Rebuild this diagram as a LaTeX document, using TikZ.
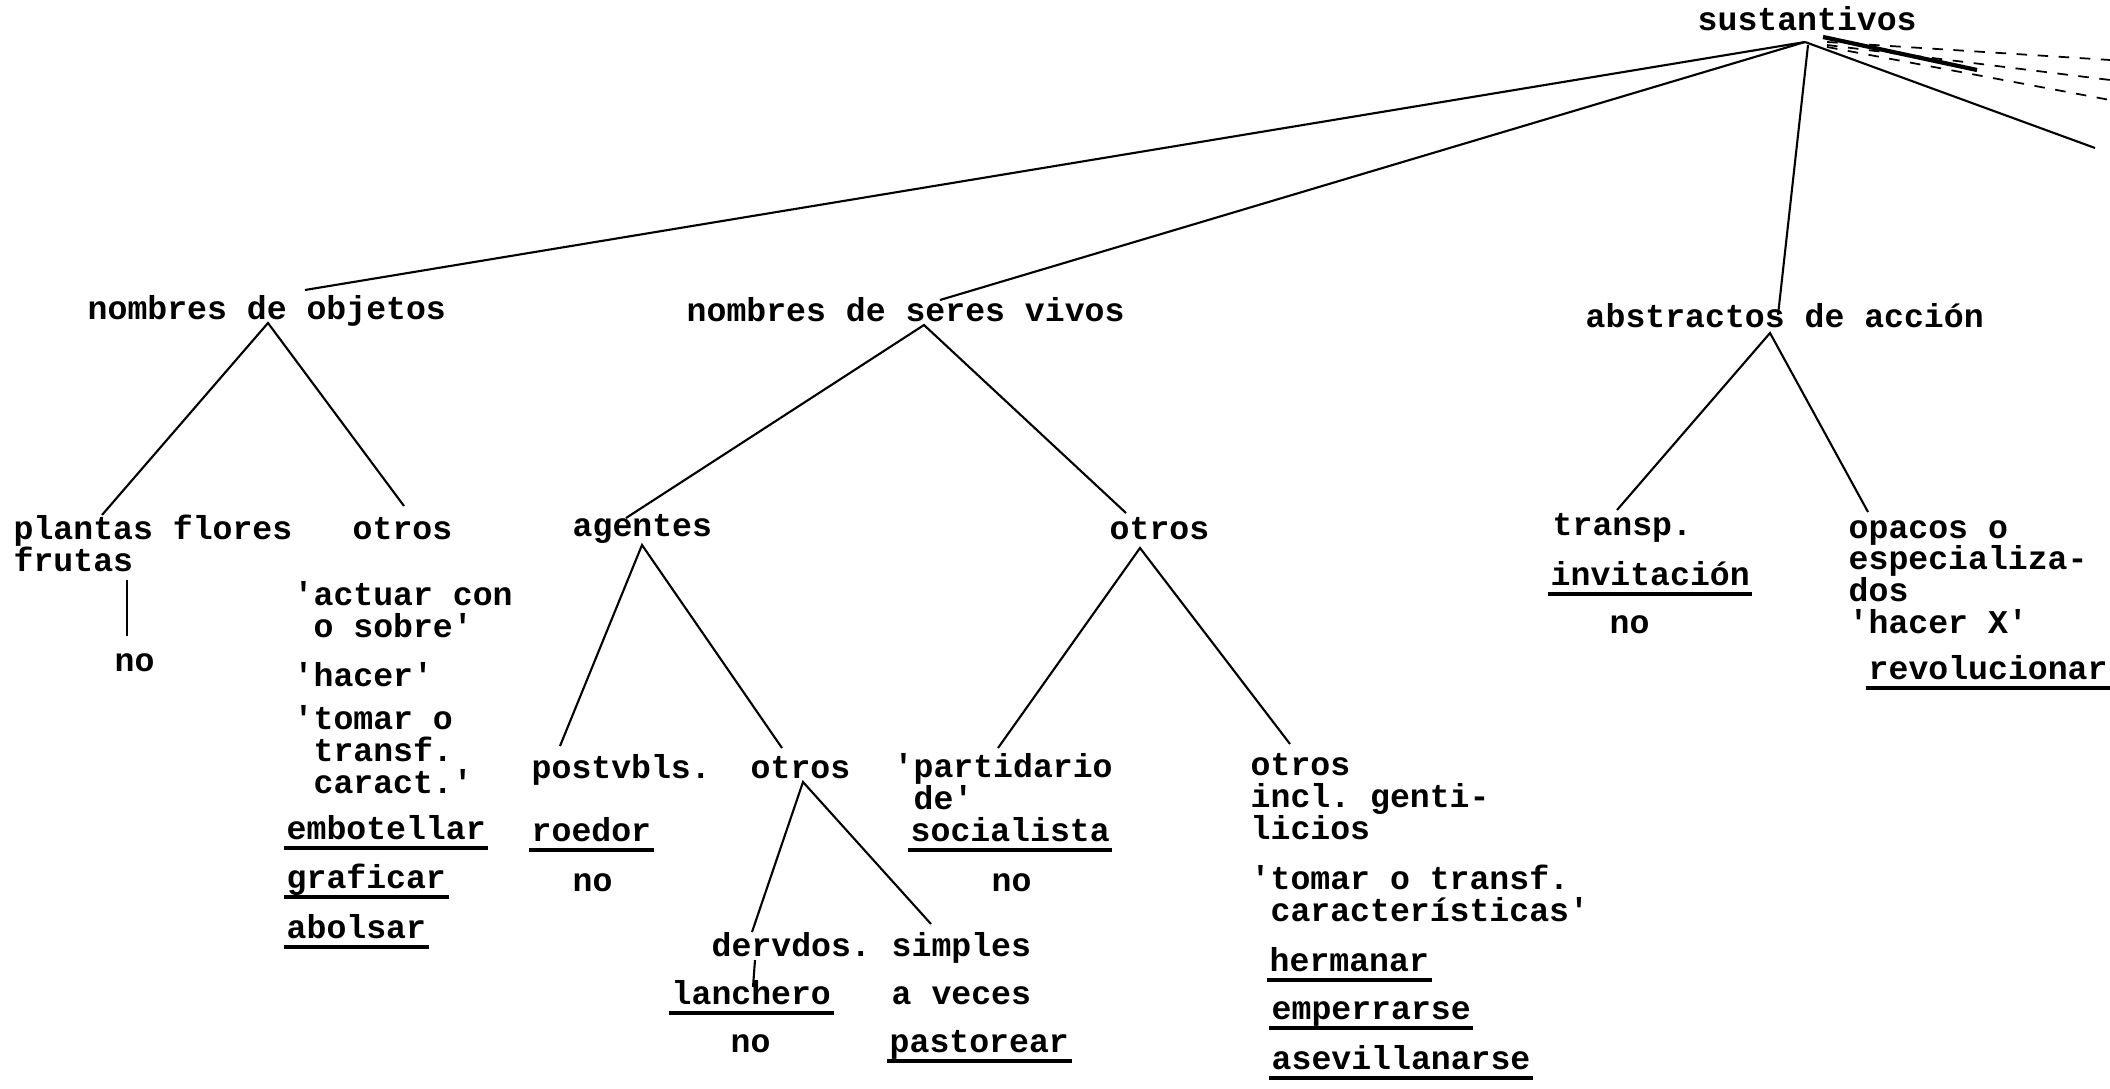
\documentclass[tikz,border=0pt]{standalone}
\usepackage{fontspec}
\setmonofont{Liberation Mono}
\usetikzlibrary{calc}
\tikzset{
    txt/.style={anchor=base west, inner sep=0pt, align=left,
        font=\ttfamily\bfseries\fontsize{9.43}{9}\selectfont\frenchspacing},
    branch/.style={line width=0.6pt},
    uline/.style={line width=0.9pt},
    faded/.style={line width=0.5pt, dashed}
}
\newcommand{\tsp}{\hphantom{x}}
\begin{document}
\begin{tikzpicture}[x=0.01cm, y=-0.01cm]
    \useasboundingbox (0,0) rectangle (2110,1088);

    % Top of the tree (multi-line nodes sit on their last line)
    \node[txt] (sust) at (1697,31) {sustantivos};
    \node[txt] (obj) at (87,319) {nombres de objetos};
    \node[txt] (seres) at (686,321) {nombres de seres vivos};
    \node[txt] (abst) at (1585,327) {abstractos de acción};

    % Nombres de objetos
    \node[txt] (plantas) at (13,571) {plantas flores\\frutas};
    \node[txt] (pno) at (114,671) {no};
    \node[txt] (obotros) at (352,539) {otros};
    \node[txt] (actuar) at (293,637) {'actuar con\\\tsp o sobre'};
    \node[txt] (hacer) at (293,686) {'hacer'};
    \node[txt] (tomar) at (293,793) {'tomar o\\\tsp transf.\\\tsp caract.'};
    \node[txt] (embot) at (286,839) {embotellar};
    \node[txt] (grafi) at (286,888) {graficar};
    \node[txt] (abols) at (286,938) {abolsar};

    % Nombres de seres vivos
    \node[txt] (agentes) at (572,536) {agentes};
    \node[txt] (sotros) at (1109,539) {otros};
    \node[txt] (postv) at (531,778) {postvbls.};
    \node[txt] (roedor) at (531,841) {roedor};
    \node[txt] (rno) at (572,891) {no};
    \node[txt] (aotros) at (750,778) {otros};
    \node[txt] (dervdos) at (711,956) {dervdos.};
    \node[txt] (lanchero) at (671,1004) {lanchero};
    \node[txt] (lno) at (730,1052) {no};
    \node[txt] (simples) at (891,956) {simples};
    \node[txt] (aveces) at (891,1004) {a veces};
    \node[txt] (pastorear) at (889,1052) {pastorear};
    \node[txt] (partid) at (893,809) {'partidario\\\tsp de'};
    \node[txt] (social) at (910,841) {socialista};
    \node[txt] (sno) at (991,891) {no};
    \node[txt] (rotros) at (1250,839) {otros\\incl. genti-\\licios};
    \node[txt] (tomar2) at (1250,921) {'tomar o transf.\\\tsp características'};
    \node[txt] (hermanar) at (1269,971) {hermanar};
    \node[txt] (emperr) at (1271,1019) {emperrarse};
    \node[txt] (asevill) at (1271,1069) {asevillanarse};

    % Abstractos de accion
    \node[txt] (transp) at (1552,535) {transp.};
    \node[txt] (invit) at (1550,585) {invitación};
    \node[txt] (ino) at (1609,633) {no};
    \node[txt] (opacos) at (1848,633) {opacos o\\especializa-\\dos\\'hacer X'};
    \node[txt] (revol) at (1868,679) {revolucionar};

    % Branches from the root
    \draw[branch] ($(sust.base west)+(108,11)$) -- ($(obj.base west)+(218,-29)$);
    \draw[branch] ($(sust.base west)+(108,11)$) -- ($(seres.base west)+(254,-21)$);
    \draw[branch] ($(sust.base west)+(111,14)$) -- ($(abst.base west)+(193,-12)$);

    % Branches leaving the page on the right
    \coordinate (off1) at (2110,60);
    \coordinate (off2) at (2110,80);
    \coordinate (off3) at (2110,100);
    \coordinate (off4) at (1977,70);
    \coordinate (off5) at (2095,148);
    \draw[faded] ($(sust.base west)+(130,11)$) -- (off1);
    \draw[faded] ($(sust.base west)+(130,14)$) -- (off2);
    \draw[faded] ($(sust.base west)+(130,16)$) -- (off3);
    \draw[line width=1.2pt] ($(sust.base west)+(126,6)$) -- (off4);
    \draw[branch] ($(sust.base west)+(108,11)$) -- (off5);

    % Branches of nombres de objetos
    \draw[branch] ($(plantas.base west)+(89,-56)$) -- ($(obj.base west)+(181,4)$)
        -- ($(obotros.base west)+(52,-33)$);
    \draw[branch] ($(plantas.base west)+(114,9)$) -- ($(pno.base west)+(13,-35)$);

    % Branches of nombres de seres vivos
    \draw[branch] ($(agentes.base west)+(54,-18)$) -- ($(seres.base west)+(238,4)$)
        -- ($(sotros.base west)+(17,-26)$);
    \draw[branch] ($(postv.base west)+(29,-32)$) -- ($(agentes.base west)+(70,9)$)
        -- ($(aotros.base west)+(32,-30)$);
    \draw[branch] ($(dervdos.base west)+(41,-24)$) -- ($(aotros.base west)+(53,4)$)
        -- ($(simples.base west)+(40,-32)$);
    \draw[branch] ($(dervdos.base west)+(44,4)$) -- ($(lanchero.base west)+(82,-17)$);
    \draw[branch] ($(partid.base west)+(105,-61)$) -- ($(sotros.base west)+(31,9)$)
        -- ($(rotros.base west)+(40,-95)$);

    % Branches of abstractos de accion
    \draw[branch] ($(transp.base west)+(65,-25)$) -- ($(abst.base west)+(185,6)$)
        -- ($(opacos.base west)+(20,-121)$);

    % Underlined verbs and nouns
    \foreach \w in {embot,grafi,abols,roedor,social,lanchero,pastorear,
                    hermanar,emperr,asevill,invit,revol}
        \draw[uline] ($(\w.base west)+(-2,9)$) -- ($(\w.base east)+(2,9)$);
\end{tikzpicture}
\end{document}
